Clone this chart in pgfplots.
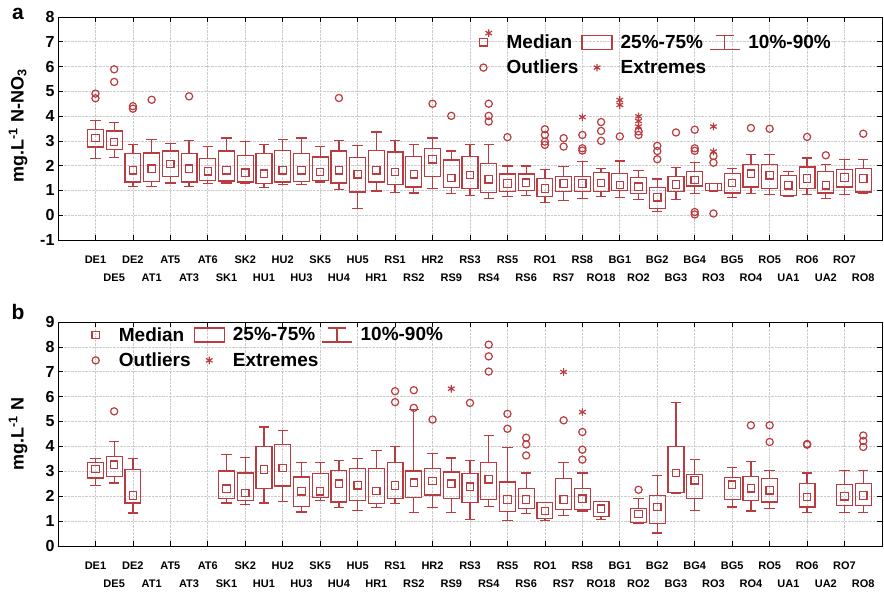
\documentclass[border=0pt]{standalone}
\usepackage{pgfplots}
\pgfplotsset{compat=1.18}
\usepgfplotslibrary{statistics}
\usepackage{fontspec}
\setmainfont{Liberation Sans}
\definecolor{bc}{RGB}{186,60,64}

\newcommand{\bx}[6]{%
 \addplot[bc, draw=bc, line width=1.2pt, forget plot, boxplot prepared={draw position=#1, lower whisker=#2, lower quartile=#3, median=#4, upper quartile=#5, upper whisker=#6, box extend=0.85, whisker extend=0.55, draw direction=y, every box/.style={draw=bc, line width=1.2pt}, every whisker/.style={draw=bc, line width=1.2pt}, every median/.style={draw=none}}] coordinates {};
 \addplot[bc, only marks, mark=square, mark size=3.7pt, line width=1.2pt, forget plot] coordinates {(#1,#4)};
}

\pgfplotsset{
 myax/.style={scale only axis, width=824pt, xmin=-2, xmax=42,
  xtick={0,2,...,40},
  xticklabels={DE1,DE2,AT5,AT6,SK2,HU2,SK5,HU5,RS1,HR2,RS3,RS5,RO1,RS8,BG1,BG2,BG4,BG5,RO5,RO6,RO7},
  extra x ticks={1,3,...,41},
  extra x tick labels={DE5,AT1,AT3,SK1,HU1,HU3,HU4,HR1,RS2,RS9,RS4,RS6,RS7,RO18,RO2,BG3,RO3,RO4,UA1,UA2,RO8},
  extra x tick style={major tick length=0pt, grid=none, tick label style={yshift=-18.5pt}},
  xticklabel style={font=\bfseries\fontsize{11}{11}\selectfont, yshift=-12pt},
  yticklabel style={font=\bfseries\fontsize{16}{16}\selectfont},
  /pgf/number format/assume math mode=true,
  tick align=inside, major tick length=5pt,
  tick style={black, line width=0.7pt},
  grid=major, major grid style={gray!40, densely dotted, line width=0.7pt},
  axis line style={black, line width=0.8pt},
  legend columns=3,
  legend style={draw=none, fill=none, font=\bfseries\fontsize{19}{19}\selectfont,
    nodes={inner sep=1pt}, row sep=8pt,
    /tikz/every odd column/.append style={column sep=7pt},
    /tikz/every even column/.append style={column sep=2pt}},
  legend cell align=left,
 },
 outl/.style={bc, only marks, mark=o, mark size=3.6pt, line width=1.2pt, forget plot},
 extr/.style={bc, only marks, mark=asterisk, mark size=3.8pt, line width=1.2pt, forget plot},
}

\newcommand{\mylegend}{%
 \addlegendimage{legend image code/.code={\path (0pt,0pt) (30pt,0pt); \draw[bc, line width=1.2pt] (11.3pt,-3.7pt) rectangle (18.7pt,3.7pt);}}
 \addlegendentry{Median}
 \addlegendimage{legend image code/.code={\draw[bc, line width=1.2pt] (0pt,-7pt) rectangle (30pt,7pt);}}
 \addlegendentry{25\%-75\%}
 \addlegendimage{legend image code/.code={\draw[bc, line width=1.2pt] (0pt,-7pt) -- (30pt,-7pt) (15pt,-7pt) -- (15pt,7pt) (6pt,7pt) -- (24pt,7pt);}}
 \addlegendentry{10\%-90\%}
 \addlegendimage{legend image code/.code={\path (0pt,0pt) (30pt,0pt); \draw[bc, line width=1.2pt] (15pt,0pt) circle (3.6pt);}}
 \addlegendentry{Outliers}
 \addlegendimage{legend image code/.code={\path (0pt,0pt) (30pt,0pt); \draw[bc, line width=1.2pt, mark size=3.8pt] plot[mark=asterisk, only marks] coordinates {(15pt,0pt)};}}
 \addlegendentry{Extremes}
}

\begin{document}
\begin{tikzpicture}
\path[use as bounding box] (0pt,0pt) rectangle (884pt,-592pt);

% ---------------- panel a ----------------
\begin{axis}[myax, at={(58pt,-240pt)}, anchor=south west, height=223pt,
  ymin=-1, ymax=8, ytick={-1,0,...,8},
  legend style={at={(0.494,0.935)}, anchor=north west}]
\bx{0}{2.29}{2.75}{3.12}{3.45}{3.83}
\bx{1}{2.32}{2.65}{2.96}{3.40}{3.75}
\bx{2}{1.17}{1.34}{1.81}{2.49}{2.86}
\bx{3}{1.17}{1.37}{1.88}{2.51}{3.05}
\bx{4}{1.30}{1.57}{2.06}{2.59}{2.89}
\bx{5}{1.17}{1.34}{1.88}{2.49}{3.00}
\bx{6}{1.28}{1.41}{1.77}{2.28}{2.78}
\bx{7}{1.30}{1.38}{1.81}{2.59}{3.12}
\bx{8}{1.28}{1.34}{1.72}{2.42}{2.96}
\bx{9}{1.12}{1.28}{1.68}{2.49}{2.86}
\bx{10}{1.24}{1.34}{1.81}{2.62}{3.05}
\bx{11}{1.24}{1.37}{1.81}{2.49}{3.12}
\bx{12}{1.34}{1.41}{1.75}{2.35}{2.76}
\bx{13}{1.03}{1.30}{1.81}{2.59}{3.00}
\bx{14}{0.27}{0.94}{1.65}{2.33}{2.81}
\bx{15}{0.98}{1.34}{1.81}{2.62}{3.36}
\bx{16}{0.91}{1.25}{1.75}{2.55}{3.02}
\bx{17}{0.90}{1.14}{1.65}{2.38}{2.85}
\bx{18}{1.08}{1.57}{2.26}{2.69}{3.12}
\bx{19}{0.88}{1.11}{1.51}{2.23}{2.59}
\bx{20}{0.81}{1.08}{1.62}{2.36}{2.84}
\bx{21}{0.68}{0.91}{1.45}{2.09}{2.84}
\bx{22}{0.74}{0.95}{1.28}{1.66}{1.99}
\bx{23}{0.81}{0.99}{1.31}{1.66}{1.99}
\bx{24}{0.50}{0.74}{1.08}{1.49}{1.85}
\bx{25}{0.61}{0.95}{1.28}{1.55}{1.96}
\bx{26}{0.68}{0.95}{1.28}{1.55}{2.16}
\bx{27}{0.74}{0.95}{1.30}{1.71}{1.89}
\bx{28}{0.72}{1.01}{1.22}{1.69}{2.19}
\bx{29}{0.64}{0.88}{1.15}{1.51}{1.82}
\bx{30}{0.16}{0.27}{0.72}{1.12}{1.46}
\bx{31}{0.65}{0.95}{1.24}{1.55}{1.93}
\bx{32}{0.88}{1.18}{1.42}{1.76}{2.14}
\bx{33}{1.01}{1.01}{1.12}{1.28}{1.28}
\bx{34}{0.70}{0.90}{1.30}{1.68}{1.88}
\bx{35}{0.87}{1.14}{1.68}{2.06}{2.45}
\bx{36}{0.85}{1.08}{1.61}{2.06}{2.45}
\bx{37}{0.74}{0.81}{1.21}{1.61}{1.75}
\bx{38}{0.85}{1.08}{1.48}{1.95}{2.31}
\bx{39}{0.67}{0.90}{1.21}{1.75}{2.04}
\bx{40}{0.85}{1.14}{1.52}{1.84}{2.24}
\bx{41}{0.90}{0.94}{1.48}{1.88}{2.24}
\addplot[outl] coordinates {(0,4.91)(0,4.72)(1,5.89)(1,5.38)(2,4.40)(2,4.30)(3,4.66)(5,4.80)(13,4.73)(18,4.50)(19,4.01)(21,4.50)(21,4.01)(21,3.78)(22,3.15)(24,3.47)(24,3.24)(24,2.97)(24,2.84)(25,3.11)(25,2.77)(26,3.24)(26,2.70)(26,2.61)(27,3.76)(27,3.40)(27,3.00)(28,3.18)(29,3.24)(29,3.38)(30,2.80)(30,2.59)(30,2.26)(31,3.34)(32,3.45)(32,2.70)(32,2.60)(32,0.13)(32,0.03)(33,2.39)(33,2.12)(33,0.07)(35,3.52)(36,3.49)(38,3.16)(39,2.42)(41,3.29)};
\addplot[extr] coordinates {(21,7.35)(26,3.96)(28,4.65)(28,4.45)(29,3.99)(29,3.80)(29,3.58)(33,3.58)(33,2.57)};
\mylegend
\end{axis}

% ---------------- panel b ----------------
\begin{axis}[myax, at={(58pt,-546pt)}, anchor=south west, height=224pt,
  ymin=0, ymax=9, ytick={0,1,...,9},
  legend style={at={(0.0234,0.99)}, anchor=north west}]
\bx{0}{2.44}{2.73}{3.10}{3.37}{3.51}
\bx{1}{2.53}{2.80}{3.27}{3.60}{4.20}
\bx{2}{1.33}{1.73}{2.03}{3.07}{3.51}
\bx{7}{1.73}{1.90}{2.30}{3.01}{3.68}
\bx{8}{1.67}{1.83}{2.13}{2.93}{3.55}
\bx{9}{1.73}{2.30}{3.07}{4.00}{4.78}
\bx{10}{1.79}{2.41}{3.13}{4.07}{4.65}
\bx{11}{1.37}{1.59}{2.20}{2.77}{3.35}
\bx{12}{1.83}{1.94}{2.20}{2.90}{3.35}
\bx{13}{1.54}{1.77}{2.50}{3.04}{3.44}
\bx{14}{1.43}{1.83}{2.44}{3.13}{3.51}
\bx{15}{1.54}{1.71}{2.21}{3.10}{3.85}
\bx{16}{1.71}{1.90}{2.43}{3.37}{4.01}
\bx{17}{1.36}{1.94}{2.54}{3.01}{5.48}
\bx{18}{1.54}{2.05}{2.61}{3.11}{3.72}
\bx{19}{1.36}{1.91}{2.50}{2.97}{3.54}
\bx{20}{1.07}{1.74}{2.38}{2.90}{3.44}
\bx{21}{1.59}{1.87}{2.68}{3.37}{4.44}
\bx{22}{1.03}{1.39}{1.87}{2.57}{3.95}
\bx{23}{1.30}{1.50}{1.87}{2.30}{2.93}
\bx{24}{1.03}{1.10}{1.41}{1.74}{1.74}
\bx{25}{1.23}{1.46}{1.87}{2.70}{3.35}
\bx{26}{1.41}{1.47}{1.90}{2.30}{2.93}
\bx{27}{1.07}{1.19}{1.50}{1.79}{1.79}
\bx{29}{0.92}{0.95}{1.28}{1.50}{1.90}
\bx{30}{0.52}{0.92}{1.57}{2.03}{2.84}
\bx{31}{2.13}{2.16}{2.93}{4.00}{5.78}
\bx{32}{1.43}{1.90}{2.64}{2.88}{3.47}
\bx{34}{1.57}{1.86}{2.46}{2.76}{3.17}
\bx{35}{1.41}{1.83}{2.32}{2.80}{3.41}
\bx{36}{1.50}{1.77}{2.24}{2.72}{3.04}
\bx{38}{1.34}{1.57}{1.97}{2.50}{2.93}
\bx{40}{1.34}{1.63}{2.00}{2.46}{3.04}
\bx{41}{1.34}{1.63}{2.03}{2.50}{3.04}
\addplot[outl] coordinates {(1,5.41)(16,6.22)(16,5.78)(17,6.26)(17,5.55)(18,5.08)(20,5.75)(21,8.09)(21,7.62)(21,7.01)(22,5.31)(22,4.71)(23,4.35)(23,4.08)(23,3.64)(25,5.05)(26,4.58)(26,3.87)(26,3.47)(29,2.26)(35,4.85)(36,4.85)(36,4.18)(38,4.07)(38,4.10)(41,4.44)(41,4.22)(41,3.98)};
\addplot[extr] coordinates {(19,6.32)(25,6.99)(26,5.38)};
\mylegend
\end{axis}

\node[font=\bfseries\fontsize{18}{18}\selectfont, rotate=90] at (18pt,-126pt) {mg.L\textsuperscript{-1} N-NO\textsubscript{3}};
\node[font=\bfseries\fontsize{18}{18}\selectfont, rotate=90] at (18pt,-434pt) {mg.L\textsuperscript{-1} N};
\node[font=\bfseries\fontsize{21}{21}\selectfont] at (18pt,-14pt) {a};
\node[font=\bfseries\fontsize{21}{21}\selectfont] at (18pt,-312pt) {b};
\end{tikzpicture}
\end{document}
